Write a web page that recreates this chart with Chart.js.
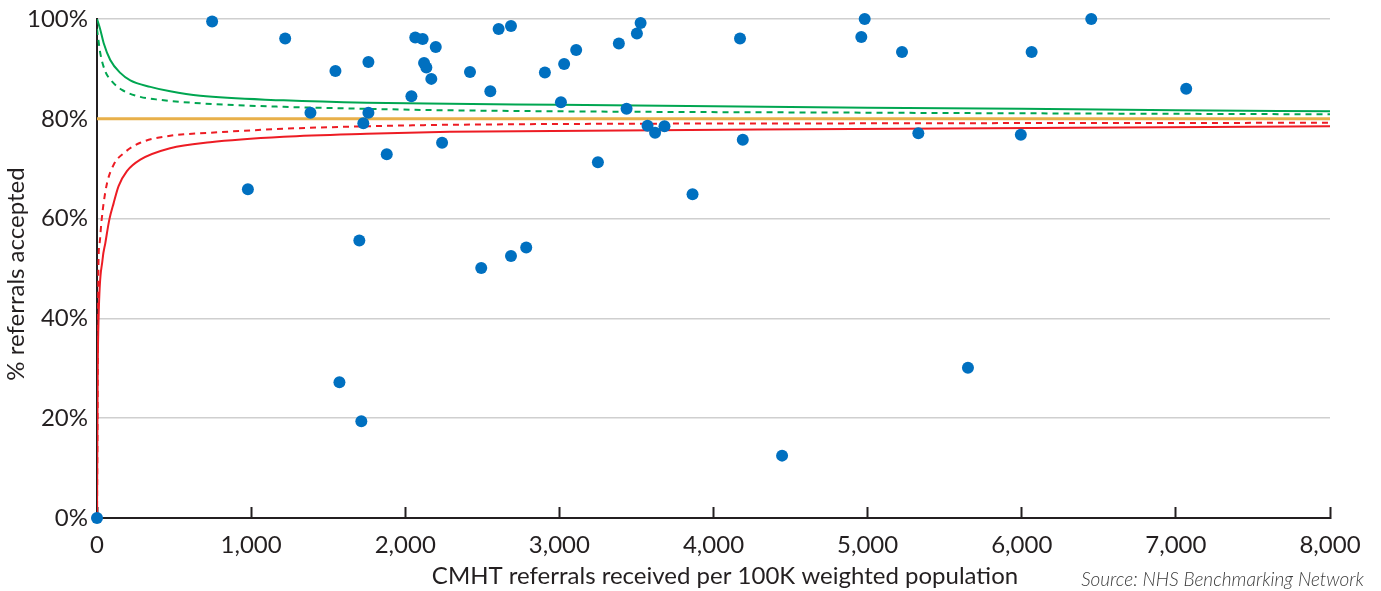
<!DOCTYPE html>
<html>
<head>
<meta charset="utf-8">
<script src="https://cdn.jsdelivr.net/npm/chart.js@4/dist/chart.umd.min.js"></script>
<style>
  html, body { margin: 0; padding: 0; background: #fff; }
  #wrap { width: 1381px; height: 591px; }
</style>
</head>
<body>
<div id="wrap"><canvas id="funnel" width="1381" height="591"></canvas></div>
<script>
// referrals received per 100K weighted population / % accepted, one entry per trust
const referralsRate = [
    0, 747, 979, 1221, 1385, 1547, 1573, 1702, 1715, 1728,
    1761, 1761, 1880, 2040, 2065, 2113, 2122, 2137, 2169, 2198,
    2239, 2420, 2493, 2552, 2606, 2686, 2686, 2785, 2906, 3010,
    3031, 3109, 3250, 3386, 3436, 3503, 3527, 3572, 3621, 3682,
    3864, 4172, 4190, 4445, 4959, 4981, 5223, 5329, 5651, 5994,
    6064, 6451, 7067
];
const pctAccepted = [
    0, 99.5, 65.9, 96.1, 81.2, 89.6, 27.2, 55.6, 19.4, 79.1,
    91.4, 81.2, 72.9, 84.5, 96.3, 96.0, 91.2, 90.3, 88.0, 94.4,
    75.2, 89.4, 50.1, 85.5, 98.0, 52.5, 98.6, 54.2, 89.3, 83.3,
    91.0, 93.8, 71.3, 95.1, 82.0, 97.1, 99.2, 78.6, 77.2, 78.5,
    64.9, 96.1, 75.8, 12.5, 96.4, 100, 93.4, 77.1, 30.1, 76.8,
    93.4, 100, 86.0
];

// national average
const target = 80;

// control limits
const upper3X = [0, 21, 43, 86, 151, 216, 346, 475, 670, 1210, 1750, 2290, 3000, 4000, 5000, 6000, 7000, 8000];
const upper3Y = [100, 97.9, 95.2, 91.8, 89.2, 87.7, 86.4, 85.5, 84.6, 83.7, 83.2, 83.0, 82.8, 82.5, 82.2, 82.0, 81.7, 81.5];

const upper2X = [0, 21, 54, 97, 162, 281, 410, 670, 1210, 1750, 2290, 5208, 8000];
const upper2Y = [98, 93.2, 89.5, 87.5, 85.8, 84.4, 83.8, 83.1, 82.4, 82.0, 81.7, 81.2, 80.9];

const lower2X = [0, 10, 17, 28, 43, 65, 108, 173, 281, 475, 734, 1210, 1750, 2290, 5208, 8000];
const lower2Y = [0, 51.8, 55.1, 59.1, 63.1, 67.1, 70.8, 73.1, 75.2, 76.6, 77.2, 78.0, 78.5, 78.8, 79.1, 79.2];

const lower3X = [0, 4, 10, 36, 54, 80, 108, 140, 194, 281, 475, 734, 1210, 1750, 2290, 5208, 8000];
const lower3Y = [0, 27, 39.7, 51.8, 55.1, 59.8, 63.1, 66.5, 69.5, 71.8, 74.1, 75.3, 76.4, 77.0, 77.4, 78.0, 78.5];

const xTitle = "CMHT referrals received per 100K weighted population";
const yTitle = "% referrals accepted";
const sourceNote = "Source: NHS Benchmarking Network";

const INK = "#231f20";
const FONT = "Lato, 'Open Sans', sans-serif";

function pairs(xs, ys) {
    return xs.map((x, i) => ({ x: x, y: ys[i] }));
}

function limitLine(xs, ys, colour, dashed) {
    return {
        data: pairs(xs, ys),
        showLine: true,
        borderColor: colour,
        borderWidth: 2,
        borderDash: dashed ? [6, 5] : [],
        pointRadius: 0,
        cubicInterpolationMode: "monotone",
        fill: false
    };
}

// axis titles and source note
const captions = {
    id: "captions",
    afterDraw(chart) {
        const ctx = chart.ctx;
        ctx.save();
        ctx.fillStyle = INK;
        ctx.textAlign = "center";
        ctx.textBaseline = "alphabetic";
        ctx.font = "24px " + FONT;
        ctx.fillText(xTitle, 725, 584);

        ctx.translate(24, 274);
        ctx.rotate(-Math.PI / 2);
        ctx.font = "24px " + FONT;
        ctx.fillText(yTitle, 0, 0);
        ctx.restore();

        ctx.save();
        ctx.fillStyle = "#3a3a3a";
        ctx.textAlign = "right";
        ctx.font = "italic 300 19px " + FONT;
        ctx.fillText(sourceNote, 1364, 586);
        ctx.restore();
    }
};

new Chart(document.getElementById("funnel"), {
    type: "scatter",
    data: {
        datasets: [
            {
                data: pairs(referralsRate, pctAccepted),
                backgroundColor: "#0070c0",
                borderWidth: 0,
                pointRadius: 6,
                clip: false
            },
            {
                data: [{ x: 0, y: target }, { x: 8000, y: target }],
                showLine: true,
                borderColor: "#e8b04a",
                borderWidth: 3,
                pointRadius: 0
            },
            limitLine(upper3X, upper3Y, "#00a651", false),
            limitLine(upper2X, upper2Y, "#00a651", true),
            limitLine(lower2X, lower2Y, "#ed1c24", true),
            limitLine(lower3X, lower3Y, "#ed1c24", false)
        ]
    },
    options: {
        responsive: false,
        animation: false,
        layout: { padding: { left: 0, top: 19, right: 51, bottom: 0 } },
        plugins: {
            legend: { display: false },
            tooltip: { enabled: false }
        },
        scales: {
            x: {
                type: "linear",
                min: 0,
                max: 8000,
                afterFit: s => {
                    s.height = 73;
                    s.paddingLeft = 0;
                    s.paddingRight = 0;
                },
                border: { color: INK, width: 2 },
                grid: {
                    drawOnChartArea: false,
                    tickLength: -11,
                    tickColor: INK,
                    tickWidth: 2
                },
                ticks: {
                    stepSize: 1000,
                    padding: 24,
                    color: INK,
                    font: { family: FONT, size: 24 },
                    callback: v => v.toLocaleString("en-GB")
                }
            },
            y: {
                min: 0,
                max: 100,
                afterFit: s => {
                    s.width = 97;
                    s.paddingTop = 0;
                    s.paddingBottom = 0;
                },
                border: { color: INK, width: 2 },
                grid: {
                    color: "#cfcfcf",
                    lineWidth: 1.5,
                    drawTicks: false
                },
                ticks: {
                    stepSize: 20,
                    padding: 9,
                    color: INK,
                    font: { family: FONT, size: 24 },
                    callback: v => v + "%"
                }
            }
        }
    },
    plugins: [captions]
});
</script>
</body>
</html>
